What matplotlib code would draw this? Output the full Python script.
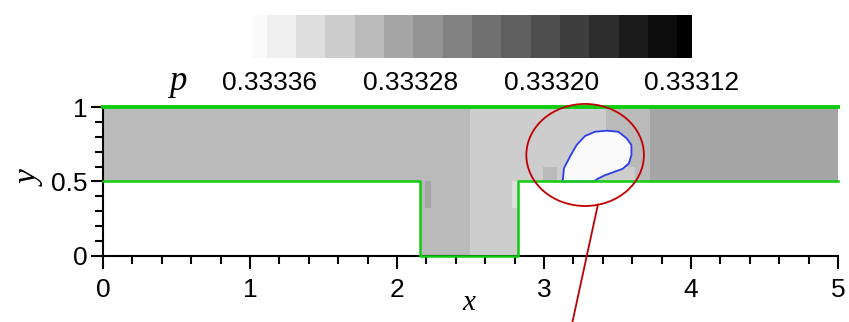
import numpy as np
import matplotlib
matplotlib.use("Agg")
import matplotlib.pyplot as plt
from matplotlib.colors import ListedColormap, BoundaryNorm
from matplotlib.cm import ScalarMappable
from matplotlib.patches import Polygon, Ellipse
from matplotlib.ticker import MultipleLocator, FormatStrFormatter

plt.rcParams["font.family"] = ["Liberation Sans", "DejaVu Sans"]

# pressure levels of the colour bar (high -> low) and their grey shades (0-255)
p_levels = [0.333370, 0.333353, 0.333337, 0.333320, 0.333303, 0.333287, 0.333270, 0.333253,
            0.333237, 0.333220, 0.333203, 0.333187, 0.333170, 0.333153, 0.333137, 0.333120]
level_greys = [250, 240, 222, 205, 186, 166, 148, 129, 112, 95, 78, 62, 45, 28, 12, 0]
cbar_ticks = [0.33336, 0.33328, 0.33320, 0.33312]

# pressure map of the T-junction, one value per cell (nan = outside the channel)
x_edges = [0, 2.16, 2.19, 2.23, 2.5, 2.785, 2.82, 2.99, 3.09, 3.42, 3.62, 3.72, 5]
y_edges = [0, 0.32, 0.5, 0.6, 1.0]
nan = np.nan
p_cells = [
    [nan, 0.333303, 0.333303, 0.333303, 0.333320, 0.333320, nan, nan, nan, nan, nan, nan],
    [nan, 0.333303, 0.333287, 0.333303, 0.333320, 0.333337, nan, nan, nan, nan, nan, nan],
    [0.333303, 0.333303, 0.333303, 0.333303, 0.333320, 0.333320, 0.333320, 0.333303,
     0.333320, 0.333320, 0.333303, 0.333287],
    [0.333303, 0.333303, 0.333303, 0.333303, 0.333320, 0.333320, 0.333320, 0.333320,
     0.333320, 0.333303, 0.333303, 0.333287],
]

# high-pressure bubble above the right corner of the junction
blob_x = [3.127, 3.136, 3.177, 3.222, 3.279, 3.347, 3.426, 3.506, 3.562, 3.595, 3.595,
          3.578, 3.535, 3.47, 3.41, 3.365, 3.34, 3.127]
blob_y = [0.5, 0.589, 0.667, 0.745, 0.805, 0.834, 0.841, 0.834, 0.79, 0.745, 0.678,
          0.622, 0.585, 0.562, 0.54, 0.518, 0.5, 0.5]
blob_p = 0.333370

# channel walls
wall_left, wall_right = 2.16, 2.82

# discrete grey scale: light = high pressure
asc = sorted(p_levels)
bounds = [asc[0]] + [(a + b) / 2 for a, b in zip(asc[:-1], asc[1:])] + [asc[-1]]
cmap = ListedColormap([(g / 255,) * 3 for g in level_greys[::-1]])
norm = BoundaryNorm(bounds, cmap.N)

fig = plt.figure(figsize=(8.49, 3.22), dpi=100)
ax = fig.add_axes([0.1213, 0.205, 0.8657, 0.4627])

field = np.ma.masked_invalid(np.array(p_cells))
ax.pcolormesh(x_edges, y_edges, field, cmap=cmap, norm=norm, shading="flat", zorder=1)

ax.add_patch(Polygon(np.column_stack([blob_x, blob_y]), closed=True,
                     facecolor=cmap(norm(blob_p)), edgecolor="#2a3cf0", lw=1.3, zorder=2))

green = "#10cc10"
ax.plot([0, 5], [1, 1], color=green, lw=2.8, clip_on=False, zorder=4)
ax.plot([0, wall_left, wall_left, wall_right, wall_right, 5],
        [0.5, 0.5, 0, 0, 0.5, 0.5], color=green, lw=1.8, clip_on=False, zorder=4)

# highlight of the bubble
ax.add_patch(Ellipse((3.28, 0.678), 0.80, 0.685, fill=False, ec="#c00000", lw=1.3,
                     clip_on=False, zorder=5))
ax.plot([3.367, 3.19], [0.345, -0.46], color="#c00000", lw=1.3, clip_on=False, zorder=5)

ax.set_xlim(0, 5)
ax.set_ylim(0, 1)
for s in ("top", "right"):
    ax.spines[s].set_visible(False)
for s in ("left", "bottom"):
    ax.spines[s].set_linewidth(1.5)

ax.set_xticks(range(6))
ax.xaxis.set_minor_locator(MultipleLocator(0.2))
ax.set_yticks([0, 0.5, 1])
ax.set_yticklabels(["0", "0.5", "1"])
ax.yaxis.set_minor_locator(MultipleLocator(0.1))
ax.tick_params(which="major", direction="out", length=9, width=1.5, labelsize=19)
ax.tick_params(which="minor", direction="out", length=5.5, width=1.5)
ax.tick_params(axis="x", pad=7)
ax.tick_params(axis="y", pad=2)

ax.set_xlabel("x", family="Liberation Serif", style="italic", fontsize=21)
ax.xaxis.set_label_coords(0.498, -0.225)
ax.set_ylabel("y", family="Liberation Serif", style="italic", fontsize=24)
ax.yaxis.set_label_coords(-0.078, 0.52)

cax = fig.add_axes([0.2968, 0.8199, 0.5183, 0.1335])
cb = fig.colorbar(ScalarMappable(norm=norm, cmap=cmap), cax=cax, orientation="horizontal",
                  spacing="proportional", ticks=cbar_ticks)
cax.invert_xaxis()
cb.outline.set_visible(False)
cax.xaxis.set_major_formatter(FormatStrFormatter("%.5f"))
cax.tick_params(length=0, labelsize=19, pad=9.5)
cax.minorticks_off()

fig.text(178 / 849, 1 - 82 / 322, "p", family="Liberation Serif", style="italic",
         fontsize=25, ha="center", va="center")

fig.savefig("out.png", dpi=100)
